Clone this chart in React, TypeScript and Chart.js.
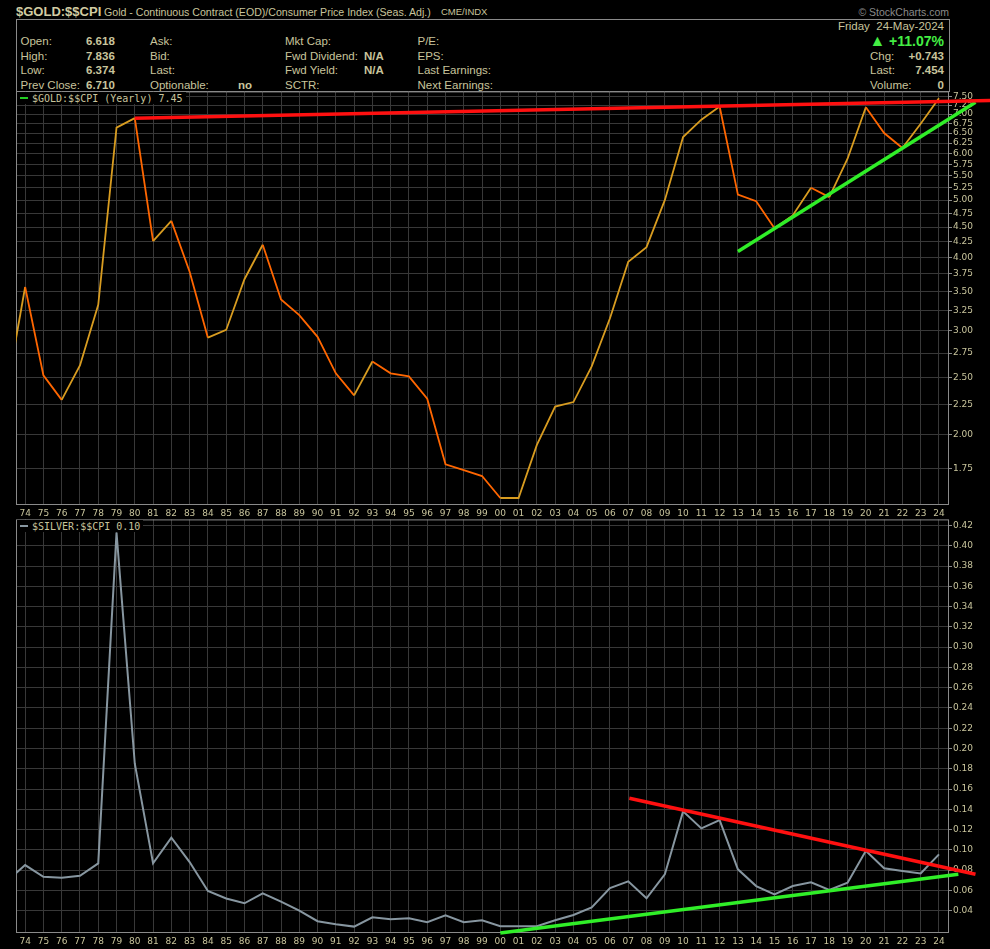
import { useEffect, useRef } from "react";
import { Chart, registerables } from "chart.js";
Chart.register(...registerables);

// yearly closes, 1973 is off the left edge and gets clipped
const years = [
  1973, 1974, 1975, 1976, 1977, 1978, 1979, 1980, 1981, 1982, 1983, 1984, 1985,
  1986, 1987, 1988, 1989, 1990, 1991, 1992, 1993, 1994, 1995, 1996, 1997, 1998,
  1999, 2000, 2001, 2002, 2003, 2004, 2005, 2006, 2007, 2008, 2009, 2010, 2011,
  2012, 2013, 2014, 2015, 2016, 2017, 2018, 2019, 2020, 2021, 2022, 2023, 2024,
];
const goldCpi = [
  2.38, 3.56, 2.52, 2.29, 2.62, 3.32, 6.64, 6.89, 4.26, 4.61, 3.78, 2.92, 3.01,
  3.67, 4.2, 3.39, 3.19, 2.93, 2.54, 2.33, 2.66, 2.54, 2.51, 2.3, 1.78, 1.74,
  1.7, 1.56, 1.56, 1.92, 2.23, 2.27, 2.61, 3.15, 3.93, 4.16, 5.0, 6.4, 6.85,
  7.21, 5.11, 4.98, 4.48, 4.71, 5.25, 5.06, 5.88, 7.19, 6.5, 6.13, 6.74, 7.45,
];
const silverCpi = [
  0.069, 0.085, 0.0735, 0.0725, 0.0745, 0.0867, 0.413, 0.185, 0.0867, 0.112,
  0.088, 0.0594, 0.052, 0.0473, 0.0572, 0.0489, 0.04, 0.0296, 0.0266, 0.0243,
  0.0335, 0.0315, 0.0325, 0.0286, 0.0355, 0.0286, 0.0305, 0.0246, 0.0246,
  0.0246, 0.0305, 0.0358, 0.0433, 0.0624, 0.069, 0.0522, 0.0758, 0.138, 0.1212,
  0.1294, 0.0808, 0.0643, 0.0561, 0.0643, 0.068, 0.0604, 0.0676, 0.0991, 0.0818,
  0.0791, 0.0768, 0.0956,
];
const yearTicks = years.slice(1);
const goldTicks = [
  1.75, 2.0, 2.25, 2.5, 2.75, 3.0, 3.25, 3.5, 3.75, 4.0, 4.25, 4.5, 4.75, 5.0,
  5.25, 5.5, 5.75, 6.0, 6.25, 6.5, 6.75, 7.0, 7.25, 7.5,
];
const silverTicks = [
  0.04, 0.06, 0.08, 0.1, 0.12, 0.14, 0.16, 0.18, 0.2, 0.22, 0.24, 0.26, 0.28,
  0.3, 0.32, 0.34, 0.36, 0.38, 0.4, 0.42,
];
// hand-drawn trend lines (endpoints)
const goldResistance = [
  { x: 1980, y: 6.89 },
  { x: 2026.8, y: 7.38 },
];
const goldSupport = [
  { x: 2013, y: 4.09 },
  { x: 2026, y: 7.33 },
];
const silverResistance = [
  { x: 2007.06, y: 0.151 },
  { x: 2026, y: 0.0759 },
];
const silverSupport = [
  { x: 2000, y: 0.018 },
  { x: 2025.06, y: 0.0759 },
];

const TEXT = "#c8c49c";
const GRID = "#383838";
const BORDER = "#8a8a8a";
const GOLD_UP = "#d89c20";
const GOLD_DOWN = "#ff6600";
const SILVER = "#8796a0";
const RED = "#ff1010";
const GREEN = "#30ee28";
const SANS = "'Liberation Sans', Arial, sans-serif";

const framePlugin = {
  id: "frame",
  beforeDatasetsDraw(chart: any) {
    const { ctx, chartArea: a } = chart;
    ctx.save();
    ctx.strokeStyle = BORDER;
    ctx.lineWidth = 1;
    ctx.strokeRect(a.left + 0.5, a.top + 0.5, a.right - a.left - 1, a.bottom - a.top - 1);
    ctx.restore();
  },
};

const pts = (vals: number[]) => years.map((x, i) => ({ x, y: vals[i] }));

const trend = (data: any, color: string) => ({
  data,
  borderColor: color,
  borderWidth: 3.5,
  pointRadius: 0,
  clip: false as any,
  order: 0,
});

type TPanel = {
  top: number;
  height: number;
  xAxisH: number;
  datasets: any[];
  yType: "linear" | "logarithmic";
  yMin: number;
  yMax: number;
  yTicks: number[];
};

const Panel = ({ top, height, xAxisH, datasets, yType, yMin, yMax, yTicks }: TPanel) => {
  const ref = useRef<HTMLCanvasElement>(null);
  useEffect(() => {
    let chart: Chart | null = null;
    if (ref.current) {
      const font = { family: "'DejaVu Sans'", size: 9 };
      chart = new Chart(ref.current, {
        type: "line",
        data: { datasets },
        options: {
          animation: false,
          responsive: false,
          layout: { padding: { top: 6, left: 16, right: 0, bottom: 0 } },
          plugins: { legend: { display: false }, tooltip: { enabled: false } },
          scales: {
            x: {
              type: "linear",
              min: 1973.5,
              max: 2024.55,
              afterBuildTicks: (s: any) => {
                s.ticks = yearTicks.map((v) => ({ value: v }));
              },
              afterFit: (s: any) => {
                s.height = xAxisH;
              },
              grid: { color: GRID, drawTicks: false },
              border: { display: false },
              ticks: {
                color: TEXT,
                font,
                padding: 3,
                maxRotation: 0,
                autoSkip: false,
                callback: (v: any) => String(Number(v) % 100).padStart(2, "0"),
              },
            },
            y: {
              type: yType,
              position: "right",
              min: yMin,
              max: yMax,
              afterBuildTicks: (s: any) => {
                s.ticks = yTicks.map((v) => ({ value: v }));
              },
              afterFit: (s: any) => {
                s.width = 41;
              },
              grid: { color: GRID, tickColor: BORDER, tickLength: 3 },
              border: { display: false },
              ticks: {
                color: TEXT,
                font,
                padding: 1,
                autoSkip: false,
                callback: (v: any) => Number(v).toFixed(2),
              },
            },
          },
        } as any,
        plugins: [framePlugin],
      });
    }
    return () => {
      if (chart) chart.destroy();
    };
  }, []);
  return (
    <canvas
      ref={ref}
      width={990}
      height={height}
      style={{ position: "absolute", left: 0, top, width: 990, height }}
    />
  );
};

const T = ({ x, y, r, b, c, s, children }: any) => (
  <div
    style={{
      position: "absolute",
      top: y - 7,
      left: r === undefined ? x : undefined,
      right: r,
      lineHeight: "14px",
      fontSize: s || 11.5,
      fontWeight: b ? "bold" : "normal",
      color: c || TEXT,
      whiteSpace: "nowrap",
    }}
  >
    {children}
  </div>
);

export default function App() {
  const goldSets = [
    trend(goldResistance, RED),
    trend(goldSupport, GREEN),
    {
      data: pts(goldCpi),
      borderColor: GOLD_UP,
      borderWidth: 1.8,
      pointRadius: 0,
      order: 1,
      segment: {
        borderColor: (c: any) => (c.p1.parsed.y >= c.p0.parsed.y ? GOLD_UP : GOLD_DOWN),
      },
    },
  ];
  const silverSets = [
    trend(silverResistance, RED),
    trend(silverSupport, GREEN),
    { data: pts(silverCpi), borderColor: SILVER, borderWidth: 2, pointRadius: 0, order: 1 },
  ];
  const legend = (top: number, dash: string, label: string) => (
    <div
      style={{
        position: "absolute",
        left: 17,
        top,
        height: 12,
        padding: "0 3px",
        background: "#000",
        display: "flex",
        alignItems: "center",
        fontFamily: "'DejaVu Sans Mono', monospace",
        fontSize: 10,
        color: TEXT,
        whiteSpace: "nowrap",
      }}
    >
      <span style={{ width: 8, height: 2, background: dash, marginRight: 4 }} />
      {label}
    </div>
  );
  return (
    <div
      style={{
        position: "absolute",
        left: 0,
        top: 0,
        width: 990,
        height: 949,
        background: "#000",
        overflow: "hidden",
        fontFamily: SANS,
      }}
    >
      <T x={16} y={12} b s={13} c="#d2cca2">$GOLD:$$CPI</T>
      <T x={104} y={12} s={10.6}>
        Gold - Continuous Contract (EOD)/Consumer Price Index (Seas. Adj.)
      </T>
      <T x={441} y={12} s={9.5}>CME/INDX</T>
      <T r={41} y={12} s={10.5} c="#8a8a8a">© StockCharts.com</T>
      <div
        style={{
          position: "absolute",
          left: 16,
          top: 19,
          width: 934,
          height: 73,
          boxSizing: "border-box",
          border: `1px solid ${BORDER}`,
        }}
      />
      <T x={20.5} y={41}>Open:</T>
      <T x={86} y={41} b>6.618</T>
      <T x={20.5} y={55.5}>High:</T>
      <T x={86} y={55.5} b>7.836</T>
      <T x={20.5} y={70}>Low:</T>
      <T x={86} y={70} b>6.374</T>
      <T x={20.5} y={84.5}>Prev Close:</T>
      <T x={86} y={84.5} b>6.710</T>
      <T x={150} y={41}>Ask:</T>
      <T x={150} y={55.5}>Bid:</T>
      <T x={150} y={70}>Last:</T>
      <T x={150} y={84.5}>Optionable:</T>
      <T x={238} y={84.5} b>no</T>
      <T x={285} y={41}>Mkt Cap:</T>
      <T x={285} y={55.5}>Fwd Dividend:</T>
      <T x={364} y={55.5} b>N/A</T>
      <T x={285} y={70}>Fwd Yield:</T>
      <T x={364} y={70} b>N/A</T>
      <T x={285} y={84.5}>SCTR:</T>
      <T x={417.5} y={41}>P/E:</T>
      <T x={417.5} y={55.5}>EPS:</T>
      <T x={417.5} y={70}>Last Earnings:</T>
      <T x={417.5} y={84.5}>Next Earnings:</T>
      <T r={46} y={26}>Friday&nbsp;&nbsp;24-May-2024</T>
      <T r={46} y={41} b s={14} c="#44ee44">
        <span style={{ fontSize: 16 }}>▲</span> +11.07%
      </T>
      <T x={870} y={55.5}>Chg:</T>
      <T r={46} y={55.5} b>+0.743</T>
      <T x={870} y={70}>Last:</T>
      <T r={46} y={70} b>7.454</T>
      <T x={870} y={84.5}>Volume:</T>
      <T r={46} y={84.5} b>0</T>
      <Panel
        top={85}
        height={435}
        xAxisH={15}
        datasets={goldSets}
        yType="logarithmic"
        yMin={1.518}
        yMax={7.65}
        yTicks={goldTicks}
      />
      <Panel
        top={513}
        height={436}
        xAxisH={16}
        datasets={silverSets}
        yType="linear"
        yMin={0.018}
        yMax={0.426}
        yTicks={silverTicks}
      />
      {legend(92, "#22cc22", "$GOLD:$$CPI (Yearly) 7.45")}
      {legend(520, SILVER, "$SILVER:$$CPI 0.10")}
    </div>
  );
}
